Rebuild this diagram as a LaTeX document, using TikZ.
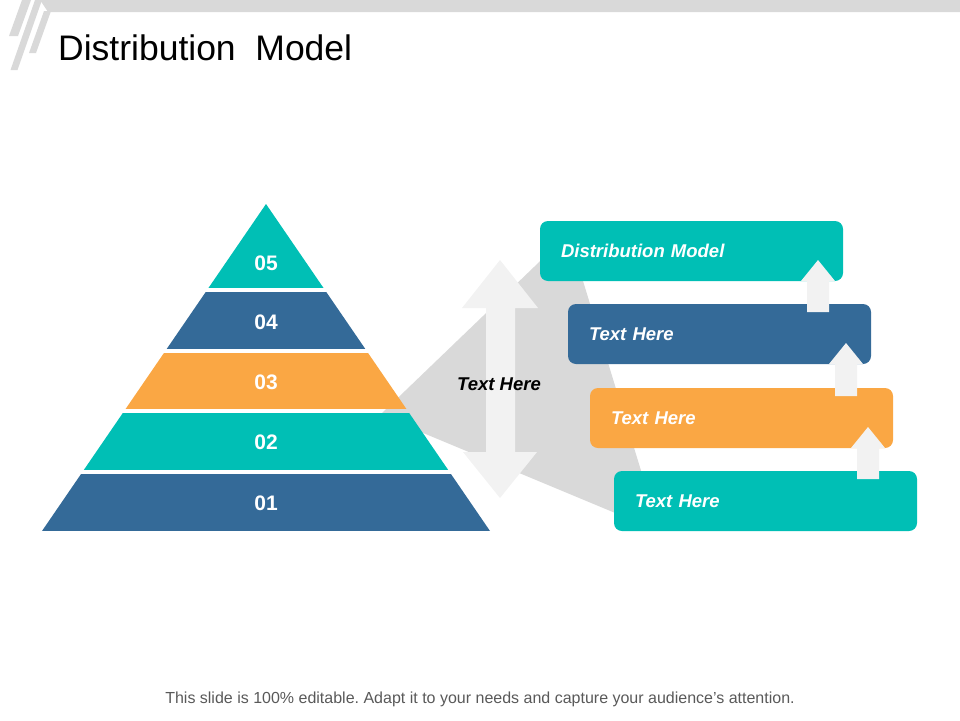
\documentclass[tikz,border=0pt]{standalone}
\usepackage{fontspec}
\setmainfont{Liberation Sans}
\usetikzlibrary{positioning, calc}
\definecolor{tealc}{HTML}{00BFB5}
\definecolor{bluec}{HTML}{346A98}
\definecolor{orangec}{HTML}{FAA744}
\definecolor{funnelgray}{HTML}{D9D9D9}
\definecolor{liftgray}{HTML}{F2F2F2}
\definecolor{bargray}{HTML}{D9D9D9}
\definecolor{footgray}{HTML}{595959}
\frenchspacing

\begin{document}
\begin{tikzpicture}[
    x=1pt, y=-1pt,
    card/.style={rectangle, rounded corners=8pt, minimum width=303pt, minimum height=60pt,
                 text width=261pt, inner xsep=21pt, inner ysep=0pt, outer sep=0pt,
                 align=left, text=white, font=\fontsize{18.5}{20}\selectfont\bfseries\itshape},
    level/.style={text=white, inner sep=0pt, font=\fontsize{21}{24}\selectfont\bfseries},
    tag/.style={text=black, inner sep=0pt, font=\fontsize{18.5}{20}\selectfont\bfseries\itshape}
  ]
    \useasboundingbox (0,0) rectangle (960,720);
    % header strip
    \fill[bargray] (40,0) -- (960,0) -- (960,12) -- (48,12) -- cycle;
    \fill[bargray] (22,0) -- (31,0) -- (18,36) -- (9,36) -- cycle;
    \fill[bargray] (35,0) -- (42,0) -- (17.5,70) -- (10.5,70) -- cycle;
    \fill[bargray] (44,11) -- (51,11) -- (36,53) -- (29,53) -- cycle;
    \node[anchor=base west, inner sep=0pt, font=\fontsize{35.5}{40}\selectfont] (title) at (58,60) {Distribution\ \ Model};

    % funnel behind
    \fill[funnelgray] (380,415) -- (560,242) -- (572,245) -- (650,500) -- (620,515) -- cycle;

    % pyramid
    \begin{scope}
      \clip (266,204) -- (490,531) -- (42,531) -- cycle;
      \foreach \ytop/\ybot/\col in {204/288/tealc, 292/349/bluec, 353/409/orangec, 413/470/tealc, 474/531/bluec}
        \fill[\col] (0,\ytop) rectangle (960,\ybot);
    \end{scope}
    \foreach \num/\ypos in {05/263, 04/322, 03/382.5, 02/442.5, 01/503}
      \node[level] (lv\num) at (266,\ypos) {\num};

    % double arrow
    \fill[liftgray] (500,260) -- (538,308) -- (515,308) -- (515,452) -- (537,452) -- (500,498)
      -- (463,452) -- (486,452) -- (486,308) -- (462,308) -- cycle;
    \node[tag] (mid) at (499,384) {Text Here};

    % boxes
    \node[card, fill=tealc, anchor=north west] (dist) at (540,221) {Distribution Model};
    \node[card, fill=bluec, below=23pt of dist.south west, anchor=north west, xshift=28pt] (txa) {Text Here};
    \node[card, fill=orangec, below=24pt of txa.south west, anchor=north west, xshift=22pt] (txb) {Text Here};
    \node[card, fill=tealc, below=23pt of txb.south west, anchor=north west, xshift=24pt] (txc) {Text Here};

    % small lift arrows
    \foreach \lo/\hi in {txa/dist, txb/txa, txc/txb}
      \fill[liftgray] ($(\hi.south east)+(-42,0)$) -- ($(\hi.south east)+(-25,-21)$)
        -- ($(\hi.south east)+(-8,0)$) -- ($(\hi.south east)+(-14,0)$)
        -- ($(\hi.south east |- \lo.north)+(-14,8)$) -- ($(\hi.south east |- \lo.north)+(-36,8)$)
        -- ($(\hi.south east)+(-36,0)$) -- cycle;

    \node[anchor=base, inner sep=0pt, text=footgray, font=\fontsize{16}{18}\selectfont] (foot) at (480,703.5)
      {This slide is 100\% editable. Adapt it to your needs and capture your audience's attention.};
  \end{tikzpicture}
\end{document}
